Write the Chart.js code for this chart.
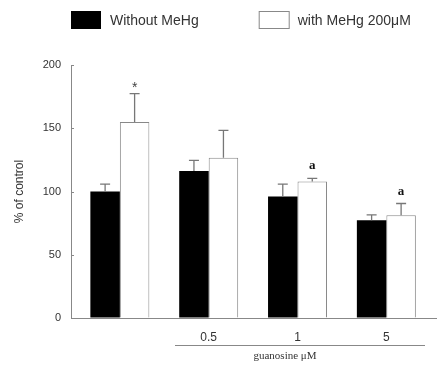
<!DOCTYPE html>
<html>
<head>
<meta charset="utf-8">
<script src="https://cdn.jsdelivr.net/npm/chart.js@4.4.0/dist/chart.umd.min.js"></script>
<style>
  html, body { margin: 0; padding: 0; background: #fff; }
  #wrap { width: 437px; height: 365px; }
</style>
</head>
<body>
<div id="wrap"><canvas id="chart"></canvas></div>
<script>
// Sample data
const groupLabels = ["", "0.5", "1", "5"];
const withoutMeHg = [100, 116.3, 96, 77.3];
const withoutMeHgErr = [5.8, 8.3, 9.8, 4.2];
const withMeHg = [155, 126.6, 108, 81.3];
const withMeHgErr = [22.4, 21.7, 2.3, 9.2];
const withMeHgMarks = ["*", "", "a", "a"];
const yTicks = [0, 50, 100, 150, 200];

const axisGrey = '#888';
const textGrey = '#333';

function toPoints(values) {
    return values.map((v, i) => ({x: i + 1, y: v}));
}

// error bars, significance marks, y ticks pointing in
const extras = {
    id: 'extras',
    afterDatasetsDraw(chart) {
        const ctx = chart.ctx;
        const y = chart.scales.y;
        const errs = [withoutMeHgErr, withMeHgErr];
        ctx.save();
        ctx.strokeStyle = '#777';
        ctx.lineWidth = 1.3;
        chart.data.datasets.forEach((ds, d) => {
            chart.getDatasetMeta(d).data.forEach((bar, i) => {
                const top = y.getPixelForValue(ds.data[i].y + errs[d][i]);
                ctx.beginPath();
                ctx.moveTo(bar.x, bar.y);
                ctx.lineTo(bar.x, top);
                ctx.moveTo(bar.x - 5, top);
                ctx.lineTo(bar.x + 5, top);
                ctx.stroke();
                if (d === 1 && withMeHgMarks[i]) {
                    const m = withMeHgMarks[i];
                    ctx.fillStyle = m === '*' ? '#444' : '#111';
                    ctx.font = m === '*' ? '14px "Liberation Sans", Arial' : 'bold 13px "Liberation Serif", serif';
                    ctx.textAlign = 'center';
                    ctx.textBaseline = 'alphabetic';
                    ctx.fillText(m, bar.x, top - (m === '*' ? 2 : 9));
                }
            });
        });
        // small inward tick marks
        ctx.strokeStyle = axisGrey;
        ctx.lineWidth = 1;
        const left = chart.chartArea.left;
        yTicks.forEach(t => {
            const py = Math.round(y.getPixelForValue(t)) + 0.5;
            ctx.beginPath();
            ctx.moveTo(left, py);
            ctx.lineTo(left + 3, py);
            ctx.stroke();
        });
        ctx.restore();
    },
    afterDraw(chart) {
        const ctx = chart.ctx;
        ctx.save();
        // legend
        ctx.font = '14px "Liberation Sans", Arial';
        ctx.textBaseline = 'middle';
        ctx.textAlign = 'left';
        let x = 71;
        chart.data.datasets.forEach((ds, d) => {
            ctx.fillStyle = ds.backgroundColor;
            ctx.fillRect(x, 11, 30, 18);
            if (d === 1) {
                ctx.strokeStyle = axisGrey;
                ctx.lineWidth = 1;
                ctx.strokeRect(x + 0.5, 11.5, 30, 17);
            }
            ctx.fillStyle = textGrey;
            ctx.fillText(ds.label, x + 39, 21);
            x += 39 + ctx.measureText(ds.label).width + 60;
        });
        // group bracket under the guanosine doses
        ctx.strokeStyle = axisGrey;
        ctx.beginPath();
        ctx.moveTo(175, 345.5);
        ctx.lineTo(425, 345.5);
        ctx.stroke();
        ctx.fillStyle = textGrey;
        ctx.font = '11px "Liberation Serif", "Times New Roman", serif';
        ctx.textAlign = 'center';
        ctx.fillText('guanosine \u03bcM', 285, 356);
        ctx.restore();
    }
};

const ctx = document.getElementById('chart').getContext('2d');
const chart = new Chart(ctx, {
    type: 'bar',
    data: {
        datasets: [{
            label: 'Without MeHg',
            data: toPoints(withoutMeHg),
            backgroundColor: '#000',
            borderWidth: 0
        }, {
            label: 'with MeHg 200\u03bcM',
            data: toPoints(withMeHg),
            backgroundColor: '#fff',
            borderColor: axisGrey,
            borderWidth: 1
        }]
    },
    options: {
        responsive: true,
        maintainAspectRatio: false,
        animation: false,
        layout: {padding: {top: 65, right: 0, bottom: 0, left: 0}},
        barPercentage: 1,
        categoryPercentage: 0.664,
        plugins: {
            legend: {display: false},
            tooltip: {enabled: false}
        },
        scales: {
            x: {
                type: 'linear',
                offset: false,
                min: 0.45,
                max: 4.57,
                afterBuildTicks: scale => {
                    scale.ticks = groupLabels.map((l, i) => ({value: i + 1}));
                },
                afterFit: scale => { scale.height = 47; },
                grid: {display: false, drawTicks: false},
                border: {color: axisGrey, width: 1},
                ticks: {
                    padding: 12,
                    color: textGrey,
                    font: {family: '"Liberation Sans", Arial', size: 12},
                    callback: v => groupLabels[v - 1]
                }
            },
            y: {
                min: 0,
                max: 200,
                afterBuildTicks: scale => {
                    scale.ticks = yTicks.map(v => ({value: v}));
                },
                afterFit: scale => { scale.width = 71; },
                grid: {drawOnChartArea: false, drawTicks: false},
                border: {color: axisGrey, width: 1},
                ticks: {
                    padding: 10,
                    color: textGrey,
                    font: {family: '"Liberation Sans", Arial', size: 11}
                },
                title: {
                    display: true,
                    text: '% of control',
                    color: textGrey,
                    font: {family: '"Liberation Sans", Arial', size: 12},
                    padding: {top: 12}
                }
            }
        }
    },
    plugins: [extras]
});
</script>
</body>
</html>
